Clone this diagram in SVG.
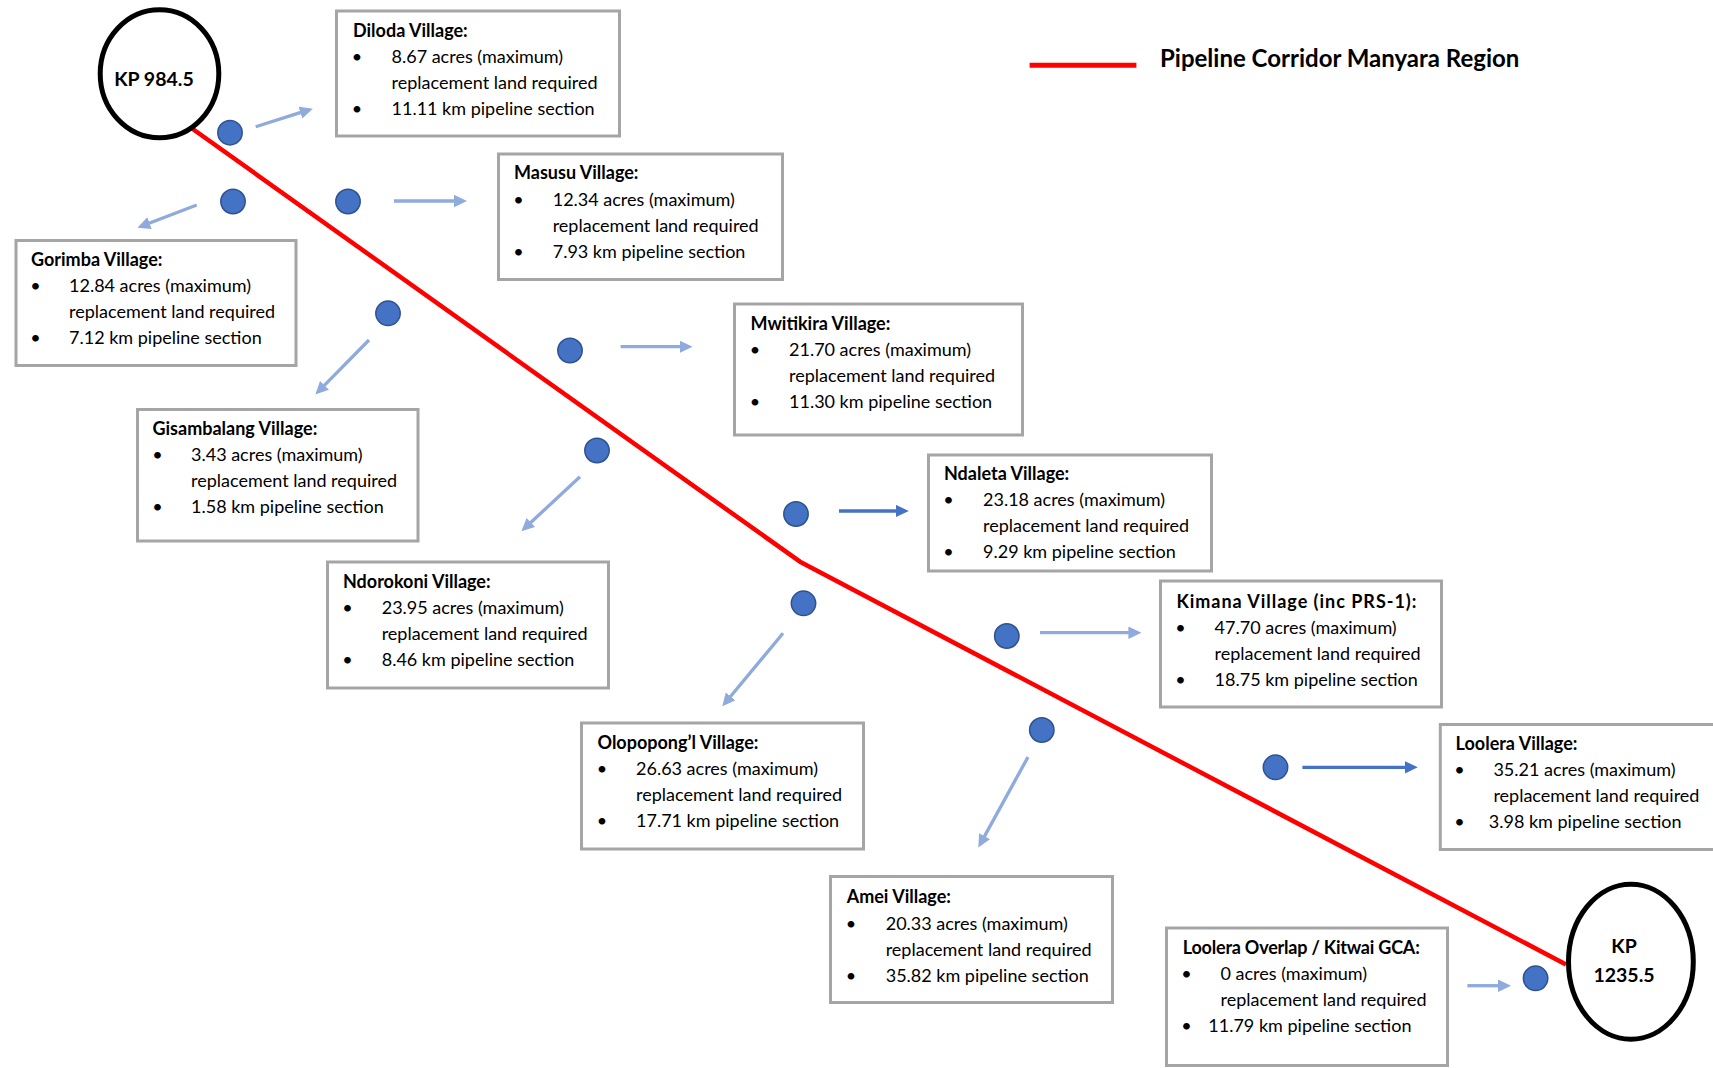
<svg xmlns="http://www.w3.org/2000/svg" width="1713" height="1068" viewBox="0 0 1713 1068">
  <style>
    .box { fill: #ffffff; stroke: #A5A5A5; stroke-width: 3; }
    .t { font-family: Lato, "Liberation Sans", sans-serif; font-size: 18px; fill: #000000; }
    .h { font-weight: bold; }
    .bl { text-anchor: middle; }
    .dot { fill: #4472C4; stroke: #2F528F; stroke-width: 1.5; }
    .al { stroke: #8FAADC; stroke-width: 3.3; fill: none; marker-end: url(#headLight); }
    .ad { stroke: #4472C4; stroke-width: 3.3; fill: none; marker-end: url(#headDark); }
    .kp { fill: #ffffff; stroke: #000000; stroke-width: 5; }
    .kpt { font-family: Lato, "Liberation Sans", sans-serif; font-size: 19.5px; font-weight: bold; fill: #000000; text-anchor: middle; }
    .pipe { stroke: #FF0000; stroke-width: 4.5; fill: none; stroke-linejoin: round; }
  </style>
  <defs>
    <marker id="headLight" markerUnits="userSpaceOnUse" markerWidth="14" markerHeight="13" refX="0.5" refY="6.2" orient="auto">
      <path d="M0,0 L13,6.2 L0,12.4 z" fill="#8FAADC"/>
    </marker>
    <marker id="headDark" markerUnits="userSpaceOnUse" markerWidth="14" markerHeight="13" refX="0.5" refY="6.2" orient="auto">
      <path d="M0,0 L13,6.2 L0,12.4 z" fill="#4472C4"/>
    </marker>
  </defs>

  <rect width="1713" height="1068" fill="#ffffff"/>

  <!-- legend -->
  <g id="legend">
    <line x1="1029.6" y1="65.3" x2="1136.4" y2="65.3" stroke="#FF0000" stroke-width="5"/>
    <text x="1160" y="67" class="t h" style="font-size:24px">Pipeline Corridor Manyara Region</text>
  </g>

  <!-- pipeline route -->
  <g id="pipeline">
    <polyline class="pipe" points="185,123.5 800,561.7 1566,964.5"/>
  </g>

  <!-- kilometre posts -->
  <g id="kp-start">
    <ellipse class="kp" cx="159.5" cy="73.7" rx="59.3" ry="64"/>
    <text class="kpt" x="154" y="86">KP 984.5</text>
  </g>
  <g id="kp-end">
    <ellipse class="kp" cx="1630.9" cy="961.7" rx="62.4" ry="77.5"/>
    <text class="kpt" x="1624" y="953.3">KP</text>
    <text class="kpt" x="1624" y="981.7">1235.5</text>
  </g>

  <!-- connectors: section marker to village box -->
  <g id="connectors">
    <line class="al" x1="255.7" y1="126.7" x2="300.9" y2="112.4"/>
    <line class="al" x1="196.7" y1="205" x2="149.1" y2="223.3"/>
    <line class="al" x1="394" y1="201" x2="454.5" y2="201"/>
    <line class="al" x1="369" y1="340" x2="324.1" y2="385.7"/>
    <line class="al" x1="620.6" y1="346.7" x2="680" y2="346.7"/>
    <line class="al" x1="580" y1="476.7" x2="530.5" y2="522.8"/>
    <line class="ad" x1="839" y1="511" x2="896.3" y2="511"/>
    <line class="al" x1="783" y1="633.3" x2="730.3" y2="696.7"/>
    <line class="al" x1="1040" y1="632.7" x2="1128.9" y2="632.7"/>
    <line class="al" x1="1028" y1="757" x2="984.3" y2="836.6"/>
    <line class="ad" x1="1302.4" y1="767.3" x2="1405.3" y2="767.3"/>
    <line class="al" x1="1467.4" y1="985.7" x2="1498.5" y2="985.7"/>
  </g>

  <!-- section markers -->
  <g id="markers">
    <circle class="dot" cx="230" cy="132.7" r="12.2"/>
    <circle class="dot" cx="233" cy="201.5" r="12.2"/>
    <circle class="dot" cx="348" cy="201.5" r="12.2"/>
    <circle class="dot" cx="388" cy="313.3" r="12.2"/>
    <circle class="dot" cx="570" cy="350.5" r="12.2"/>
    <circle class="dot" cx="597" cy="450.5" r="12.2"/>
    <circle class="dot" cx="796" cy="514" r="12.2"/>
    <circle class="dot" cx="803.5" cy="603.3" r="12.2"/>
    <circle class="dot" cx="1006.8" cy="636" r="12.2"/>
    <circle class="dot" cx="1041.8" cy="730" r="12.2"/>
    <circle class="dot" cx="1275.5" cy="767.3" r="12.2"/>
    <circle class="dot" cx="1535.6" cy="978.3" r="12.2"/>
  </g>

  <!-- village boxes -->
  <g id="diloda">
    <rect class="box" x="336.5" y="11" width="283" height="125"/>
    <text class="t h" x="353" y="37">Diloda Village:</text>
    <text class="t bl" x="357" y="63">•</text>
    <text class="t" x="391.5" y="63">8.67 acres (maximum)</text>
    <text class="t" x="391.5" y="89">replacement land required</text>
    <text class="t bl" x="357" y="115">•</text>
    <text class="t" x="391.5" y="115">11.11 km pipeline section</text>
  </g>

  <g id="masusu">
    <rect class="box" x="498.5" y="154" width="284" height="125.5"/>
    <text class="t h" x="514" y="179.3">Masusu Village:</text>
    <text class="t bl" x="518.5" y="205.5">•</text>
    <text class="t" x="552.7" y="205.5">12.34 acres (maximum)</text>
    <text class="t" x="552.7" y="231.5">replacement land required</text>
    <text class="t bl" x="518.5" y="257.5">•</text>
    <text class="t" x="552.7" y="257.5">7.93 km pipeline section</text>
  </g>

  <g id="mwitikira">
    <rect class="box" x="734.5" y="304" width="288" height="131"/>
    <text class="t h" x="750.5" y="329.5">Mwitikira Village:</text>
    <text class="t bl" x="755" y="355.7">•</text>
    <text class="t" x="789" y="355.7">21.70 acres (maximum)</text>
    <text class="t" x="789" y="381.7">replacement land required</text>
    <text class="t bl" x="755" y="407.7">•</text>
    <text class="t" x="789" y="407.7">11.30 km pipeline section</text>
  </g>

  <g id="ndaleta">
    <rect class="box" x="928.5" y="455" width="283" height="116"/>
    <text class="t h" x="944" y="480">Ndaleta Village:</text>
    <text class="t bl" x="948.5" y="506.3">•</text>
    <text class="t" x="983" y="506.3">23.18 acres (maximum)</text>
    <text class="t" x="983" y="532.3">replacement land required</text>
    <text class="t bl" x="948.5" y="558.3">•</text>
    <text class="t" x="983" y="558.3">9.29 km pipeline section</text>
  </g>

  <g id="gorimba">
    <rect class="box" x="16" y="240.5" width="280" height="125"/>
    <text class="t h" x="31" y="265.5">Gorimba Village:</text>
    <text class="t bl" x="35.5" y="291.5">•</text>
    <text class="t" x="69" y="291.5">12.84 acres (maximum)</text>
    <text class="t" x="69" y="317.5">replacement land required</text>
    <text class="t bl" x="35.5" y="343.5">•</text>
    <text class="t" x="69" y="343.5">7.12 km pipeline section</text>
  </g>

  <g id="gisambalang">
    <rect class="box" x="137.5" y="409.5" width="280.5" height="131.5"/>
    <text class="t h" x="152.5" y="435">Gisambalang Village:</text>
    <text class="t bl" x="157.5" y="461.3">•</text>
    <text class="t" x="191" y="461.3">3.43 acres (maximum)</text>
    <text class="t" x="191" y="487.3">replacement land required</text>
    <text class="t bl" x="157.5" y="513.3">•</text>
    <text class="t" x="191" y="513.3">1.58 km pipeline section</text>
  </g>

  <g id="ndorokoni">
    <rect class="box" x="327.5" y="562" width="281" height="126"/>
    <text class="t h" x="343" y="587.7">Ndorokoni Village:</text>
    <text class="t bl" x="347.5" y="614">•</text>
    <text class="t" x="381.7" y="614">23.95 acres (maximum)</text>
    <text class="t" x="381.7" y="640">replacement land required</text>
    <text class="t bl" x="347.5" y="666">•</text>
    <text class="t" x="381.7" y="666">8.46 km pipeline section</text>
  </g>

  <g id="olopopongl">
    <rect class="box" x="581.5" y="723" width="282" height="126"/>
    <text class="t h" x="597.5" y="749">Olopopong’l Village:</text>
    <text class="t bl" x="602" y="775.3">•</text>
    <text class="t" x="636" y="775.3">26.63 acres (maximum)</text>
    <text class="t" x="636" y="801.3">replacement land required</text>
    <text class="t bl" x="602" y="827.3">•</text>
    <text class="t" x="636" y="827.3">17.71 km pipeline section</text>
  </g>

  <g id="kimana">
    <rect class="box" x="1160.5" y="581" width="281" height="126"/>
    <text class="t h" x="1176.4" y="607.5" textLength="240" lengthAdjust="spacing">Kimana Village (inc PRS-1):</text>
    <text class="t bl" x="1180.5" y="633.7">•</text>
    <text class="t" x="1214.6" y="633.7">47.70 acres (maximum)</text>
    <text class="t" x="1214.6" y="659.7">replacement land required</text>
    <text class="t bl" x="1180.5" y="685.7">•</text>
    <text class="t" x="1214.6" y="685.7">18.75 km pipeline section</text>
  </g>

  <g id="loolera">
    <rect class="box" x="1440.3" y="724.5" width="300" height="125"/>
    <text class="t h" x="1455.6" y="750">Loolera Village:</text>
    <text class="t bl" x="1459.5" y="776">•</text>
    <text class="t" x="1493.4" y="776">35.21 acres (maximum)</text>
    <text class="t" x="1493.4" y="802">replacement land required</text>
    <text class="t bl" x="1459.5" y="828">•</text>
    <text class="t" x="1488.8" y="828">3.98 km pipeline section</text>
  </g>

  <g id="amei">
    <rect class="box" x="830.5" y="876.5" width="282" height="126"/>
    <text class="t h" x="846.7" y="903.3">Amei Village:</text>
    <text class="t bl" x="851" y="929.6">•</text>
    <text class="t" x="885.7" y="929.6">20.33 acres (maximum)</text>
    <text class="t" x="885.7" y="955.6">replacement land required</text>
    <text class="t bl" x="851" y="981.6">•</text>
    <text class="t" x="885.7" y="981.6">35.82 km pipeline section</text>
  </g>

  <g id="loolera-overlap">
    <rect class="box" x="1166.5" y="928" width="281" height="137.5"/>
    <text class="t h" x="1182.8" y="954.3" textLength="237" lengthAdjust="spacing">Loolera Overlap / Kitwai GCA:</text>
    <text class="t bl" x="1186.5" y="980.3">•</text>
    <text class="t" x="1220.5" y="980.3">0 acres (maximum)</text>
    <text class="t" x="1220.5" y="1006.3">replacement land required</text>
    <text class="t bl" x="1186.5" y="1032.3">•</text>
    <text class="t" x="1208.3" y="1032.3">11.79 km pipeline section</text>
  </g>
</svg>
